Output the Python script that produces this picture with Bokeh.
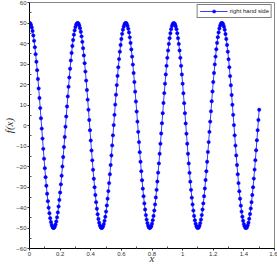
from bokeh.plotting import figure
from bokeh.models import (Range1d, FixedTicker, CustomJSTickFormatter, Legend,
                          LegendItem, ColumnDataSource)
from bokeh.embed import file_html
from bokeh.resources import INLINE

# ---- data ----
x_vals = [
    0.000, 0.005, 0.010, 0.015, 0.020, 0.025, 0.030, 0.035, 0.040, 0.045,
    0.050, 0.055, 0.060, 0.065, 0.070, 0.075, 0.080, 0.085, 0.090, 0.095,
    0.100, 0.105, 0.110, 0.115, 0.120, 0.125, 0.130, 0.135, 0.140, 0.145,
    0.150, 0.155, 0.160, 0.165, 0.170, 0.175, 0.180, 0.185, 0.190, 0.195,
    0.200, 0.205, 0.210, 0.215, 0.220, 0.225, 0.230, 0.235, 0.240, 0.245,
    0.250, 0.255, 0.260, 0.265, 0.270, 0.275, 0.280, 0.285, 0.290, 0.295,
    0.300, 0.305, 0.310, 0.315, 0.320, 0.325, 0.330, 0.335, 0.340, 0.345,
    0.350, 0.355, 0.360, 0.365, 0.370, 0.375, 0.380, 0.385, 0.390, 0.395,
    0.400, 0.405, 0.410, 0.415, 0.420, 0.425, 0.430, 0.435, 0.440, 0.445,
    0.450, 0.455, 0.460, 0.465, 0.470, 0.475, 0.480, 0.485, 0.490, 0.495,
    0.500, 0.505, 0.510, 0.515, 0.520, 0.525, 0.530, 0.535, 0.540, 0.545,
    0.550, 0.555, 0.560, 0.565, 0.570, 0.575, 0.580, 0.585, 0.590, 0.595,
    0.600, 0.605, 0.610, 0.615, 0.620, 0.625, 0.630, 0.635, 0.640, 0.645,
    0.650, 0.655, 0.660, 0.665, 0.670, 0.675, 0.680, 0.685, 0.690, 0.695,
    0.700, 0.705, 0.710, 0.715, 0.720, 0.725, 0.730, 0.735, 0.740, 0.745,
    0.750, 0.755, 0.760, 0.765, 0.770, 0.775, 0.780, 0.785, 0.790, 0.795,
    0.800, 0.805, 0.810, 0.815, 0.820, 0.825, 0.830, 0.835, 0.840, 0.845,
    0.850, 0.855, 0.860, 0.865, 0.870, 0.875, 0.880, 0.885, 0.890, 0.895,
    0.900, 0.905, 0.910, 0.915, 0.920, 0.925, 0.930, 0.935, 0.940, 0.945,
    0.950, 0.955, 0.960, 0.965, 0.970, 0.975, 0.980, 0.985, 0.990, 0.995,
    1.000, 1.005, 1.010, 1.015, 1.020, 1.025, 1.030, 1.035, 1.040, 1.045,
    1.050, 1.055, 1.060, 1.065, 1.070, 1.075, 1.080, 1.085, 1.090, 1.095,
    1.100, 1.105, 1.110, 1.115, 1.120, 1.125, 1.130, 1.135, 1.140, 1.145,
    1.150, 1.155, 1.160, 1.165, 1.170, 1.175, 1.180, 1.185, 1.190, 1.195,
    1.200, 1.205, 1.210, 1.215, 1.220, 1.225, 1.230, 1.235, 1.240, 1.245,
    1.250, 1.255, 1.260, 1.265, 1.270, 1.275, 1.280, 1.285, 1.290, 1.295,
    1.300, 1.305, 1.310, 1.315, 1.320, 1.325, 1.330, 1.335, 1.340, 1.345,
    1.350, 1.355, 1.360, 1.365, 1.370, 1.375, 1.380, 1.385, 1.390, 1.395,
    1.400, 1.405, 1.410, 1.415, 1.420, 1.425, 1.430, 1.435, 1.440, 1.445,
    1.450, 1.455, 1.460, 1.465, 1.470, 1.475, 1.480, 1.485, 1.490, 1.495,
    1.500,
]

y_vals = [
    50.0, 49.8, 49.0, 47.8, 46.1, 43.9, 41.3, 38.2, 34.8, 31.1,
    27.0, 22.7, 18.1, 13.4, 8.5, 3.5, -1.5, -6.4, -11.4, -16.2,
    -20.8, -25.2, -29.4, -33.3, -36.9, -40.1, -42.8, -45.2, -47.1, -48.5,
    -49.5, -50.0, -49.9, -49.4, -48.3, -46.8, -44.8, -42.4, -39.5, -36.3,
    -32.7, -28.7, -24.5, -20.0, -15.4, -10.5, -5.6, -0.6, 4.4, 9.3,
    14.2, 18.9, 23.4, 27.7, 31.7, 35.4, 38.8, 41.7, 44.3, 46.4,
    48.0, 49.2, 49.8, 50.0, 49.7, 48.8, 47.5, 45.7, 43.5, 40.8,
    37.7, 34.2, 30.4, 26.3, 21.9, 17.3, 12.6, 7.7, 2.7, -2.3,
    -7.3, -12.2, -17.0, -21.6, -26.0, -30.1, -33.9, -37.4, -40.6, -43.3,
    -45.6, -47.4, -48.7, -49.6, -50.0, -49.9, -49.2, -48.1, -46.5, -44.5,
    -42.0, -39.0, -35.7, -32.0, -28.1, -23.8, -19.3, -14.6, -9.7, -4.8,
    0.2, 5.2, 10.2, 15.0, 19.7, 24.2, 28.4, 32.4, 36.0, 39.3,
    42.2, 44.7, 46.7, 48.2, 49.3, 49.9, 50.0, 49.6, 48.6, 47.2,
    45.4, 43.0, 40.3, 37.1, 33.6, 29.7, 25.6, 21.2, 16.5, 11.7,
    6.8, 1.9, -3.1, -8.1, -13.0, -17.7, -22.3, -26.7, -30.8, -34.5,
    -38.0, -41.0, -43.7, -45.9, -47.6, -48.9, -49.7, -50.0, -49.8, -49.1,
    -47.9, -46.2, -44.1, -41.5, -38.5, -35.1, -31.4, -27.3, -23.0, -18.5,
    -13.8, -8.9, -3.9, 1.1, 6.0, 11.0, 15.8, 20.4, 24.9, 29.1,
    33.0, 36.6, 39.8, 42.6, 45.0, 47.0, 48.5, 49.4, 49.9, 49.9,
    49.4, 48.4, 47.0, 45.0, 42.6, 39.8, 36.6, 33.0, 29.1, 24.9,
    20.4, 15.7, 10.9, 6.0, 1.0, -4.0, -8.9, -13.8, -18.5, -23.1,
    -27.4, -31.4, -35.2, -38.5, -41.5, -44.1, -46.2, -47.9, -49.1, -49.8,
    -50.0, -49.7, -48.9, -47.6, -45.9, -43.7, -41.0, -38.0, -34.5, -30.7,
    -26.6, -22.3, -17.7, -12.9, -8.1, -3.1, 1.9, 6.9, 11.8, 16.6,
    21.2, 25.6, 29.8, 33.6, 37.2, 40.3, 43.1, 45.4, 47.3, 48.7,
    49.6, 50.0, 49.9, 49.3, 48.2, 46.7, 44.6, 42.2, 39.3, 36.0,
    32.3, 28.4, 24.1, 19.6, 14.9, 10.1, 5.2, 0.2, -4.8, -9.8,
    -14.6, -19.3, -23.8, -28.1, -32.1, -35.7, -39.1, -42.0, -44.5, -46.5,
    -48.1, -49.2, -49.9, -50.0, -49.6, -48.7, -47.4, -45.5, -43.2, -40.5,
    -37.4, -33.9, -30.1, -25.9, -21.5, -16.9, -12.1, -7.2, -2.3, 2.7,
    7.7,
]

series_label = "right hand side"
x_label = "x"
y_label = "f(x)"
x_ticks = [0, 0.2, 0.4, 0.6, 0.8, 1.0, 1.2, 1.4, 1.6]
x_minor = [0.1, 0.3, 0.5, 0.7, 0.9, 1.1, 1.3, 1.5]
y_ticks = [-60, -50, -40, -30, -20, -10, 0, 10, 20, 30, 40, 50, 60]
y_minor = [-55, -45, -35, -25, -15, -5, 5, 15, 25, 35, 45, 55]

# ---- figure ----
p = figure(width=277, height=266, output_backend="svg", toolbar_location=None,
           x_range=Range1d(0, 1.6), y_range=Range1d(-60, 60),
           min_border_left=29, min_border_right=3, min_border_top=2,
           min_border_bottom=0)
p.grid.visible = False
p.outline_line_color = "#888888"
p.outline_line_width = 1
p.background_fill_color = "white"
p.border_fill_color = "white"

src = ColumnDataSource(dict(x=x_vals, y=y_vals))
ln = p.line("x", "y", source=src, line_color="#3a3aff", line_width=1)
sc = p.scatter("x", "y", source=src, marker="circle", size=3.4,
               fill_color="#0000ff", line_color="#0000ff", line_width=0.5)

legend = Legend(items=[LegendItem(label=series_label, renderers=[ln, sc])],
                location="top_right")
legend.border_line_color = "black"
legend.border_line_width = 1
legend.background_fill_alpha = 1
legend.label_text_font = "Liberation Sans"
legend.label_text_font_size = "6px"
legend.label_text_color = "#222222"
legend.glyph_width = 28
legend.glyph_height = 8
legend.label_height = 8
legend.label_standoff = 2
legend.padding = 2
legend.spacing = 0
legend.margin = 2
p.add_layout(legend)

for ax in (p.xaxis[0], p.yaxis[0]):
    ax.axis_line_color = "black"
    ax.axis_line_width = 1
    ax.major_tick_out = 2
    ax.major_tick_in = 0
    ax.minor_tick_out = 0
    ax.minor_tick_in = 2
    ax.major_tick_line_color = "#333333"
    ax.minor_tick_line_color = "#555555"
    ax.major_label_text_font = "Liberation Sans"
    ax.major_label_text_font_size = "6px"
    ax.major_label_text_color = "#333333"
    ax.axis_label_text_font = "Liberation Serif"
    ax.axis_label_text_font_style = "italic"
    ax.axis_label_text_font_size = "11px"
    ax.axis_label_text_color = "#333333"

p.xaxis.major_label_standoff = 1
p.yaxis.major_label_standoff = 1
p.xaxis.axis_label_standoff = -7
p.yaxis.axis_label_standoff = -2

p.xaxis.ticker = FixedTicker(ticks=x_ticks, minor_ticks=x_minor)
p.yaxis.ticker = FixedTicker(ticks=y_ticks, minor_ticks=y_minor)
p.xaxis.formatter = CustomJSTickFormatter(
    code="return String(parseFloat(tick.toFixed(2)));")
p.yaxis.formatter = CustomJSTickFormatter(
    code="return tick < 0 ? '\\u2212' + String(-tick) : String(tick);")
p.xaxis.axis_label = x_label
p.yaxis.axis_label = y_label

open("out.html", "w").write(file_html(p, INLINE))
